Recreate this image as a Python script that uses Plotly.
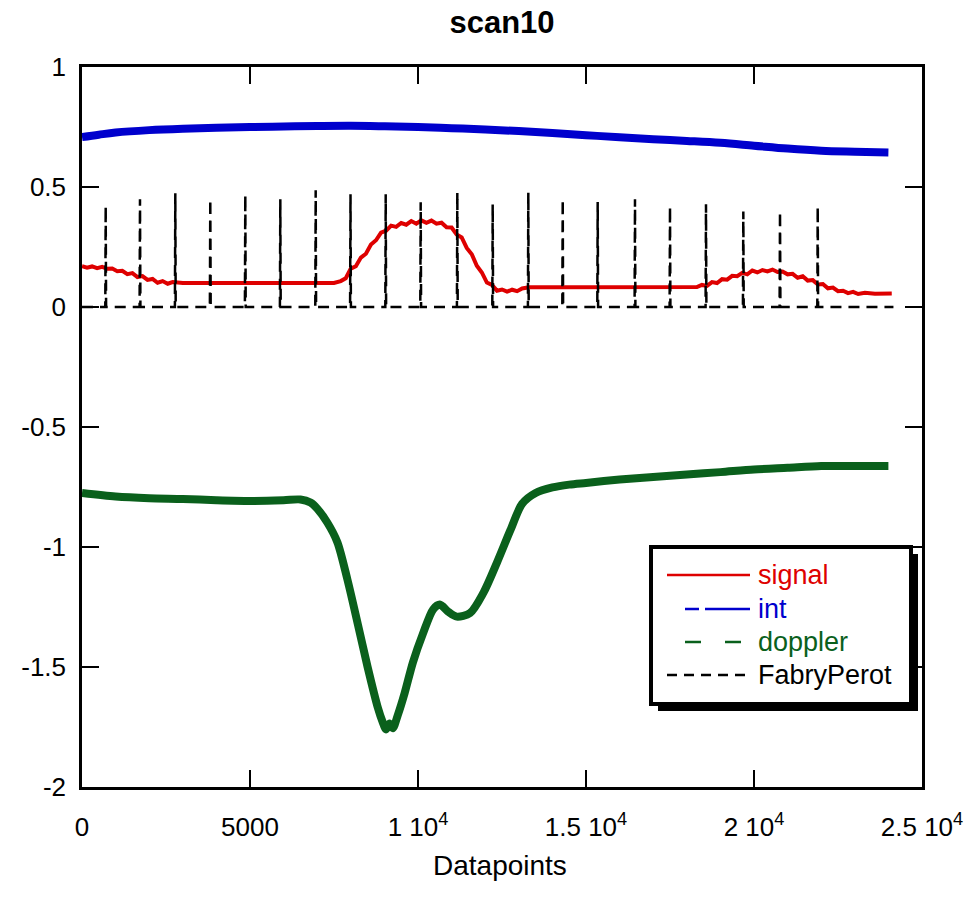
import plotly.graph_objects as go

# ---- data -------------------------------------------------------------
signal_x = [0, 150, 300, 450, 600, 750, 900, 1050, 1200, 1350, 1500, 1650, 1800,
            1950, 2100, 2250, 2400, 2550, 2700, 3000, 4000, 5000, 6000, 7000, 7500,
            7700, 7850, 8000, 8150, 8300, 8450, 8600, 8750, 8900, 9050, 9200, 9350,
            9500, 9650, 9800, 9950, 10100, 10250, 10400, 10550, 10700, 10850, 11000,
            11150, 11300, 11450, 11600, 11750, 11900, 12050, 12200, 12350, 12500,
            12650, 12800, 12950, 13100, 13300, 14000, 15000, 16000, 17000, 18000,
            18300, 18450, 18600, 18750, 18900, 19050, 19200, 19350, 19500, 19650,
            19800, 19950, 20100, 20250, 20400, 20550, 20700, 20850, 21000, 21150,
            21300, 21450, 21600, 21750, 21900, 22050, 22200, 22350, 22500, 22650,
            22800, 22950, 23100, 23300, 23600, 24100]
signal_y = [0.170, 0.164, 0.169, 0.162, 0.167, 0.159, 0.160, 0.149, 0.151, 0.137,
            0.141, 0.125, 0.129, 0.113, 0.117, 0.101, 0.108, 0.097, 0.104, 0.100,
            0.100, 0.100, 0.100, 0.100, 0.100, 0.108, 0.120, 0.160, 0.170, 0.206,
            0.222, 0.260, 0.278, 0.310, 0.318, 0.339, 0.334, 0.350, 0.343, 0.358,
            0.347, 0.361, 0.351, 0.360, 0.347, 0.351, 0.332, 0.331, 0.302, 0.290,
            0.246, 0.220, 0.172, 0.144, 0.102, 0.092, 0.068, 0.073, 0.064, 0.072,
            0.066, 0.077, 0.082, 0.082, 0.082, 0.082, 0.082, 0.083, 0.083, 0.092,
            0.088, 0.104, 0.100, 0.116, 0.114, 0.130, 0.128, 0.142, 0.136, 0.152,
            0.144, 0.154, 0.148, 0.156, 0.146, 0.148, 0.136, 0.138, 0.122, 0.128,
            0.110, 0.112, 0.094, 0.096, 0.078, 0.081, 0.066, 0.068, 0.058, 0.063,
            0.054, 0.059, 0.055, 0.056, 0.055, 0.055]

int_x = [0, 500, 1000, 2000, 3000, 4000, 5000, 6000, 7000, 8000, 9000, 10000, 11000,
         12000, 13000, 14000, 15000, 16000, 17000, 18000, 19000, 20000, 21000, 22000,
         23000, 24000]
int_y = [0.708, 0.718, 0.727, 0.737, 0.743, 0.747, 0.750, 0.752, 0.754, 0.755, 0.753,
         0.750, 0.745, 0.740, 0.733, 0.725, 0.716, 0.707, 0.699, 0.692, 0.684, 0.672,
         0.660, 0.651, 0.647, 0.644]

doppler_x = [0, 1000, 2000, 3000, 4000, 5000, 6000, 6500, 6800, 7000, 7300, 7600,
             7900, 8200, 8500, 8800, 8950, 9050, 9150, 9250, 9400, 9600, 9850, 10150,
             10450, 10650, 10900, 11150, 11550, 11950, 12350, 12750, 13100, 13500,
             14000, 14500, 15000, 16000, 17000, 18000, 19000, 20000, 21000, 22000,
             23000, 24000]
doppler_y = [-0.775, -0.790, -0.797, -0.800, -0.805, -0.808, -0.805, -0.802, -0.815,
             -0.840, -0.898, -0.980, -1.136, -1.316, -1.500, -1.667, -1.730, -1.760,
             -1.735, -1.755, -1.700, -1.610, -1.480, -1.360, -1.260, -1.240, -1.270,
             -1.290, -1.275, -1.190, -1.065, -0.930, -0.820, -0.775, -0.752, -0.740,
             -0.733, -0.719, -0.708, -0.698, -0.688, -0.677, -0.670, -0.663, -0.662,
             -0.662]

# Fabry-Perot transmission peaks (position, height) on a zero baseline
fp_peak_x = [705, 1726, 2777, 3818, 4860, 5902, 6955, 7991, 9039, 10080, 11170,
             12223, 13283, 14307, 15348, 16458, 17500, 18571, 19682, 20774, 21896]
fp_peak_h = [0.421, 0.449, 0.474, 0.449, 0.467, 0.449, 0.486, 0.470, 0.470, 0.436,
             0.477, 0.428, 0.477, 0.449, 0.438, 0.449, 0.419, 0.428, 0.398, 0.398, 0.419]
fp_end = 24150

x_tickvals = [0, 5000, 10000, 15000, 20000, 25000]
x_ticktext = ["0", "5000", "1 10<sup>4</sup>", "1.5 10<sup>4</sup>",
              "2 10<sup>4</sup>", "2.5 10<sup>4</sup>"]
y_tickvals = [1, 0.5, 0, -0.5, -1, -1.5, -2]
y_ticktext = ["1", "0.5", "0", "-0.5", "-1", "-1.5", "-2"]

RED = "rgb(222,0,0)"
BLUE = "rgb(0,0,205)"
GREEN = "rgb(10,96,28)"
BLACK = "black"
FONT = "Liberation Sans, Arial, sans-serif"

# build the Fabry-Perot trace from its peaks
fp_x, fp_y = [0], [0]
for px, ph in zip(fp_peak_x, fp_peak_h):
    fp_x += [px - 12, px, px + 12]
    fp_y += [0, ph, 0]
fp_x.append(fp_end)
fp_y.append(0)

fig = go.Figure()
fig.add_trace(go.Scatter(x=int_x, y=int_y, mode="lines",
                         line=dict(color=BLUE, width=8, shape="spline"),
                         showlegend=False))
fig.add_trace(go.Scatter(x=doppler_x, y=doppler_y, mode="lines",
                         line=dict(color=GREEN, width=8, shape="spline", smoothing=0.8),
                         showlegend=False))
fig.add_trace(go.Scatter(x=signal_x, y=signal_y, mode="lines",
                         line=dict(color=RED, width=4), showlegend=False))
fig.add_trace(go.Scatter(x=fp_x, y=fp_y, mode="lines",
                         line=dict(color=BLACK, width=2.5, dash="11px,7px"),
                         showlegend=False))

# ---- layout -----------------------------------------------------------
W, H = 971, 909
ML, MR, MT, MB = 82, 49, 67, 122
PW, PH = W - ML - MR, H - MT - MB


def px2x(p):
    return (p - ML) / PW


def px2y(p):
    return (H - MB - p) / PH


axis_common = dict(showline=True, linecolor=BLACK, linewidth=2.5, mirror="ticks",
                   ticks="inside", ticklen=17, tickwidth=2, tickcolor=BLACK,
                   showgrid=False, zeroline=False, automargin=False,
                   tickfont=dict(family=FONT, size=26, color=BLACK))

fig.update_layout(
    width=W, height=H,
    margin=dict(l=ML, r=MR, t=MT, b=MB, autoexpand=False),
    paper_bgcolor="white", plot_bgcolor="white",
    title=dict(text="<b>scan10</b>", x=px2x(502), xref="paper", xanchor="center",
               y=1 - 22 / H, yref="container", yanchor="middle",
               font=dict(family=FONT, size=31, color=BLACK)),
    xaxis=dict(range=[0, 25000], tickvals=x_tickvals, ticktext=x_ticktext,
               ticklabelstandoff=15, **axis_common),
    yaxis=dict(range=[-2, 1], tickvals=y_tickvals, ticktext=y_ticktext,
               ticklabelstandoff=8, **axis_common),
    showlegend=False,
)

fig.add_annotation(text="Datapoints", xref="paper", yref="paper",
                   x=px2x(500), y=px2y(865), xanchor="center", yanchor="middle",
                   showarrow=False, font=dict(family=FONT, size=28, color=BLACK))

# legend box with drop shadow
box = (651, 547, 911, 704)
sh = 7
shapes = [
    dict(type="rect", xref="paper", yref="paper", layer="above",
         x0=px2x(box[0] + sh), x1=px2x(box[2] + sh),
         y0=px2y(box[3] + sh), y1=px2y(box[1] + sh),
         fillcolor=BLACK, line=dict(width=0)),
    dict(type="rect", xref="paper", yref="paper", layer="above",
         x0=px2x(box[0]), x1=px2x(box[2]), y0=px2y(box[3]), y1=px2y(box[1]),
         fillcolor="white", line=dict(color=BLACK, width=4)),
]
legend_items = [
    ("signal", RED, "solid", 667, 575),
    ("int", BLUE, "14px,6px,46px", 685, 609),
    ("doppler", GREEN, "16px,24px", 685, 642),
    ("FabryPerot", BLACK, "10px,7px", 667, 675),
]
for name, col, dash, x0, yy in legend_items:
    shapes.append(dict(type="line", xref="paper", yref="paper", layer="above",
                       x0=px2x(x0), x1=px2x(750), y0=px2y(yy), y1=px2y(yy),
                       line=dict(color=col, width=2.5, dash=dash)))
    fig.add_annotation(text=name, xref="paper", yref="paper",
                       x=px2x(756), y=px2y(yy), xanchor="left", yanchor="middle",
                       showarrow=False, font=dict(family=FONT, size=27, color=col))
fig.update_layout(shapes=shapes)

fig.write_html("out.html")
